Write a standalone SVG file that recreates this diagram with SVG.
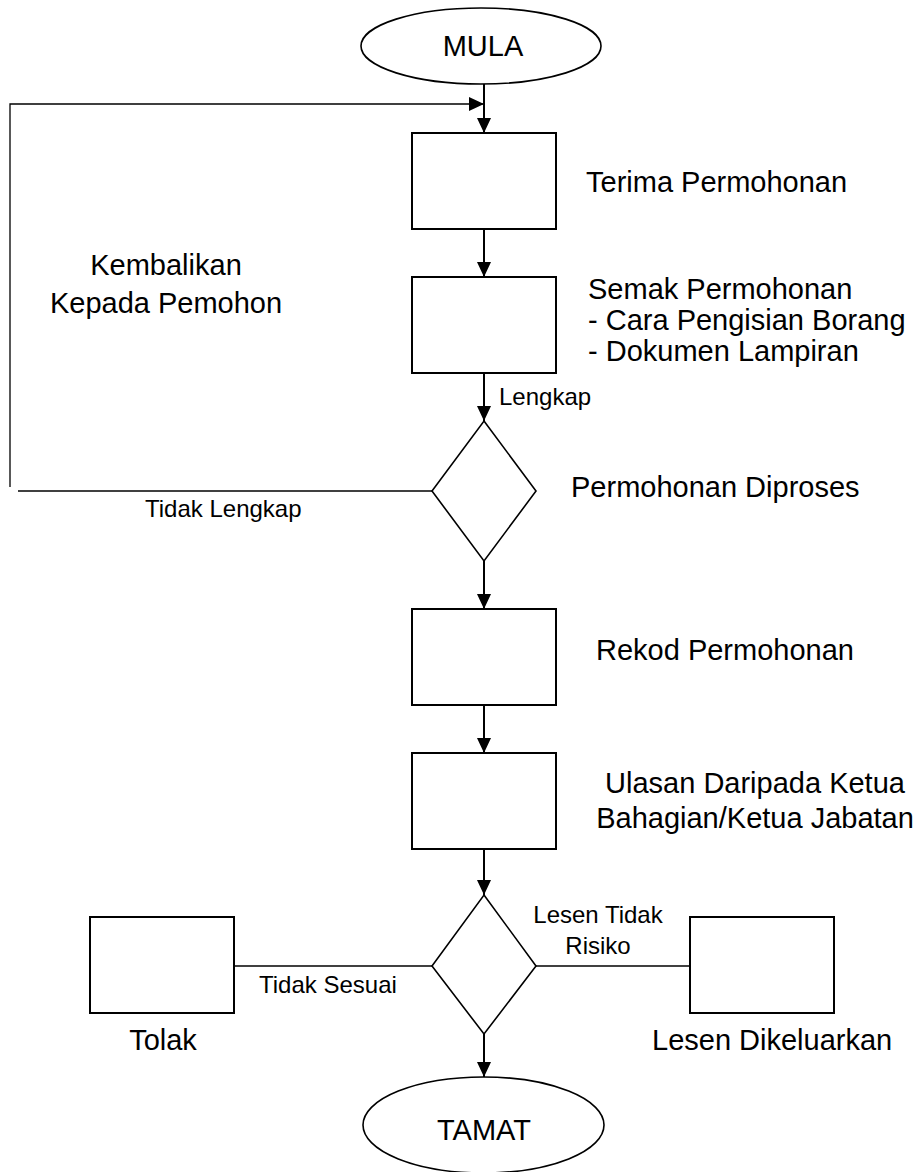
<svg xmlns="http://www.w3.org/2000/svg" width="918" height="1172" viewBox="0 0 918 1172">
<style>
  .shape { fill: #ffffff; stroke: #000000; stroke-width: 2; }
  .dia { fill: #ffffff; stroke: #000000; stroke-width: 1.6; }
  .flow { fill: none; stroke: #000000; stroke-width: 2; }
  .thin { fill: none; stroke: #000000; stroke-width: 1.3; }
  .t { font-family: "Liberation Sans", Arial, sans-serif; font-size: 29px; fill: #000000; }
  .s { font-family: "Liberation Sans", Arial, sans-serif; font-size: 24px; fill: #000000; }
  .m { text-anchor: middle; }
</style>
<defs>
  <marker id="arr" markerUnits="userSpaceOnUse" markerWidth="15" markerHeight="14" refX="15" refY="7" orient="auto">
    <path d="M0,0 L15,7 L0,14 z" fill="#000000"/>
  </marker>
</defs>
<rect width="918" height="1172" fill="#ffffff"/>
<g id="connectors">
  <path class="flow" d="M484,84 V133" marker-end="url(#arr)"/>
  <path class="thin" d="M10,487 V104 H484" marker-end="url(#arr)"/>
  <path class="thin" d="M432,491 H18"/>
  <path class="flow" d="M484,229 V277" marker-end="url(#arr)"/>
  <path class="flow" d="M484,373 V421" marker-end="url(#arr)"/>
  <path class="flow" d="M484,561 V609" marker-end="url(#arr)"/>
  <path class="flow" d="M484,705 V753" marker-end="url(#arr)"/>
  <path class="flow" d="M484,849 V895" marker-end="url(#arr)"/>
  <path class="flow" d="M484,1034 V1077" marker-end="url(#arr)"/>
  <path class="thin" d="M234,966 H432"/>
  <path class="thin" d="M536,966 H690"/>
  <text class="s" x="499" y="405">Lengkap</text>
  <text class="s" x="145" y="517">Tidak Lengkap</text>
  <text class="s m" x="598" y="923">Lesen Tidak</text>
  <text class="s m" x="598" y="954">Risiko</text>
  <text class="s" x="259" y="993">Tidak Sesuai</text>
</g>
<g id="mula">
  <ellipse class="dia" cx="481" cy="46" rx="120" ry="38"/>
  <text class="t m" x="483" y="56">MULA</text>
</g>
<g id="terima">
  <rect class="shape" x="412" y="133" width="144" height="96"/>
  <text class="t" x="586" y="192">Terima Permohonan</text>
</g>
<g id="semak">
  <rect class="shape" x="412" y="277" width="144" height="96"/>
  <text class="t" x="588" y="299">Semak Permohonan</text>
  <text class="t" x="588" y="330">- Cara Pengisian Borang</text>
  <text class="t" x="588" y="361">- Dokumen Lampiran</text>
</g>
<g id="kembalikan">
  <text class="t m" x="166" y="275">Kembalikan</text>
  <text class="t m" x="166" y="313">Kepada Pemohon</text>
</g>
<g id="diproses">
  <polygon class="dia" points="484,421 536,491 484,561 432,491"/>
  <text class="t" x="571" y="497">Permohonan Diproses</text>
</g>
<g id="rekod">
  <rect class="shape" x="412" y="609" width="144" height="96"/>
  <text class="t" x="596" y="660">Rekod Permohonan</text>
</g>
<g id="ulasan">
  <rect class="shape" x="412" y="753" width="144" height="96"/>
  <text class="t m" x="755" y="793">Ulasan Daripada Ketua</text>
  <text class="t m" x="755" y="828">Bahagian/Ketua Jabatan</text>
</g>
<g id="keputusan">
  <polygon class="dia" points="484,895 536,966 484,1034 432,966"/>
</g>
<g id="tolak">
  <rect class="shape" x="90" y="917" width="144" height="96"/>
  <text class="t m" x="163" y="1050">Tolak</text>
</g>
<g id="lesen">
  <rect class="shape" x="690" y="917" width="144" height="96"/>
  <text class="t" x="652" y="1050">Lesen Dikeluarkan</text>
</g>
<g id="tamat">
  <ellipse class="dia" cx="483.5" cy="1125" rx="120.5" ry="48"/>
  <text class="t m" x="484" y="1140">TAMAT</text>
</g>
</svg>
